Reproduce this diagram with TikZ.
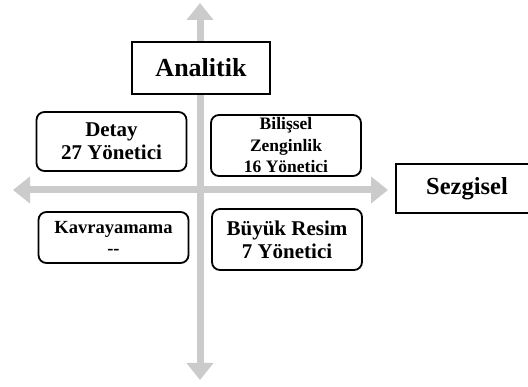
\documentclass[tikz,border=0pt]{standalone}
\usepackage{fontspec}
\setmainfont{Liberation Serif}
\usepackage{tikz}
\usetikzlibrary{arrows.meta,positioning}
\definecolor{AxisGray}{HTML}{CBCBCB}

\begin{document}
\begin{tikzpicture}[x=1pt, y=-1pt,
    axis/.style={line width=7pt, AxisGray, {Triangle[width=26pt,length=17pt]}-{Triangle[width=26pt,length=17pt]}},
    mainbox/.style={draw, line width=1.3pt, fill=white, inner sep=0pt},
    quadbox/.style={draw, line width=1.8pt, rounded corners=8pt, fill=white, inner sep=0pt, align=center,
        minimum width=150pt}]
    \useasboundingbox (0,0) rectangle (528,387);

    % Axes
    \coordinate (top) at (200,3);
    \coordinate (bottom) at (200,380);
    \coordinate (left) at (13,190);
    \coordinate (right) at (388,190);
    \draw[axis] (bottom) -- (top);
    \draw[axis] (left) -- (right);

    % Dimension labels
    \node[mainbox, minimum width=138pt, minimum height=52pt, font=\fontsize{26}{30}\selectfont\bfseries] (analitik) at (201,68) {Analitik};
    \node[mainbox, minimum width=142pt, minimum height=49pt, font=\fontsize{24.5}{28}\selectfont\bfseries] (sezgisel) at (467,188.5) {Sezgisel};

    % Quadrants
    \node[quadbox, minimum height=59pt, font=\fontsize{21}{23}\selectfont\bfseries] (detay) at (111.5,141.5)
        {Detay\\27 Yönetici};
    \node[quadbox, minimum height=61pt, font=\fontsize{17.5}{22}\selectfont\bfseries] (bilissel) at (286,145.5)
        {Bilişsel\\Zenginlik\\[-1pt]16 Yönetici};
    \node[quadbox, minimum height=51pt, font=\fontsize{18.5}{21}\selectfont\bfseries] (kavrayamama) at (113.5,237.5)
        {Kavrayamama\\-{}-};
    \node[quadbox, minimum height=61pt, font=\fontsize{21}{23}\selectfont\bfseries] (buyukresim) at (287,239.5)
        {Büyük Resim\\7 Yönetici};

\end{tikzpicture}
\end{document}
